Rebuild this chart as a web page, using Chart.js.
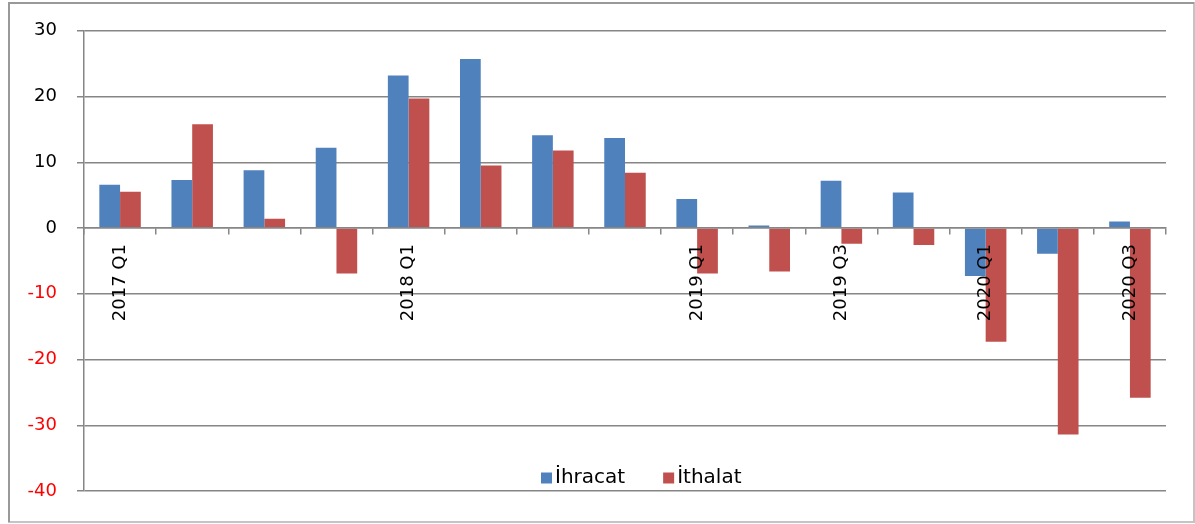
<!DOCTYPE html>
<html>
<head>
<meta charset="utf-8">
<script src="https://cdn.jsdelivr.net/npm/chart.js@4/dist/chart.umd.min.js"></script>
<style>
  html, body { margin: 0; padding: 0; background: #fff; }
  #wrap { width: 1195px; height: 524px; position: relative; }
</style>
</head>
<body>
<div id="wrap"><canvas id="chart"></canvas></div>
<script>
// quarters, only some of them get a label on the axis
const categories = ['2017 Q1', '2017 Q2', '2017 Q3', '2017 Q4',
                    '2018 Q1', '2018 Q2', '2018 Q3', '2018 Q4',
                    '2019 Q1', '2019 Q2', '2019 Q3', '2019 Q4',
                    '2020 Q1', '2020 Q2', '2020 Q3'];
const shownLabels = ['2017 Q1', '2018 Q1', '2019 Q1', '2019 Q3', '2020 Q1', '2020 Q3'];

const ihracat = [6.6, 7.3, 8.8, 12.2, 23.2, 25.7, 14.1, 13.7, 4.4, 0.4, 7.2, 5.4, -7.3, -3.9, 1.0];
const ithalat = [5.5, 15.8, 1.4, -6.9, 19.7, 9.5, 11.8, 8.4, -6.9, -6.6, -2.4, -2.6, -17.3, -31.4, -25.8];

const yTicks = [-40, -30, -20, -10, 0, 10, 20, 30];

const FONT = 'DejaVu Sans';
const GRID = '#868686';

// legend drawn inside the plot, near the bottom
const legendInPlot = {
    id: 'legendInPlot',
    afterDraw(chart) {
        const ctx = chart.ctx;
        ctx.save();
        ctx.font = '20px "' + FONT + '"';
        ctx.textBaseline = 'middle';
        let x = 541;
        const y = 478;
        chart.data.datasets.forEach((ds) => {
            ctx.fillStyle = ds.backgroundColor;
            ctx.fillRect(x, y - 5.5, 11, 11);
            ctx.fillStyle = '#000';
            ctx.fillText(ds.label, x + 14, y);
            x += 14 + ctx.measureText(ds.label).width + 38;
        });
        ctx.restore();
    }
};

// outer frame of the chart object
const frame = {
    id: 'frame',
    afterDraw(chart) {
        const ctx = chart.ctx;
        ctx.save();
        ctx.lineWidth = 2;
        ctx.strokeStyle = '#c4c4c4';
        ctx.strokeRect(9, 3, 1185, 519);
        ctx.strokeStyle = '#999999';
        ctx.beginPath();
        ctx.moveTo(9, 522); ctx.lineTo(9, 3); ctx.lineTo(1194, 3);
        ctx.stroke();
        ctx.restore();
    }
};

new Chart(document.getElementById('chart'), {
    type: 'bar',
    data: {
        labels: categories,
        datasets: [{
            label: 'İhracat',
            data: ihracat,
            backgroundColor: '#4F81BD',
            borderWidth: 0
        }, {
            label: 'İthalat',
            data: ithalat,
            backgroundColor: '#C0504D',
            borderWidth: 0
        }]
    },
    options: {
        responsive: true,
        maintainAspectRatio: false,
        animation: false,
        events: [],
        layout: { padding: { left: 0, right: 29, top: 29, bottom: 33 } },
        datasets: {
            bar: { categoryPercentage: 0.575, barPercentage: 1 }
        },
        plugins: {
            legend: { display: false },
            tooltip: { enabled: false }
        },
        scales: {
            x: {
                position: { y: 0 },
                grid: {
                    offset: true,
                    drawOnChartArea: false,
                    color: GRID,
                    lineWidth: 1.5,
                    tickLength: 6,
                    z: 1
                },
                border: { color: GRID, width: 1.5, z: 1 },
                ticks: {
                    z: 1,
                    autoSkip: false,
                    minRotation: 90,
                    maxRotation: 90,
                    padding: 10,
                    color: '#000',
                    font: { family: FONT, size: 18 },
                    callback: function (value) {
                        const lab = this.getLabelForValue(value);
                        return shownLabels.includes(lab) ? lab : '';
                    }
                },
                afterFit: (scale) => {
                    scale.height = 0;
                    scale.paddingLeft = 0;
                    scale.paddingRight = 0;
                }
            },
            y: {
                min: yTicks[0],
                max: yTicks[yTicks.length - 1],
                afterBuildTicks: (scale) => {
                    scale.ticks = yTicks.map(v => ({ value: v }));
                },
                grid: {
                    color: GRID,
                    lineWidth: 1.5,
                    tickLength: 7
                },
                border: { color: GRID, width: 1.5 },
                ticks: {
                    padding: 20,
                    font: { family: FONT, size: 18 },
                    color: (ctx) => (ctx.tick && ctx.tick.value < 0) ? '#FF0000' : '#000'
                },
                afterFit: (scale) => { scale.width = 84; }
            }
        }
    },
    plugins: [legendInPlot, frame]
});
</script>
</body>
</html>
